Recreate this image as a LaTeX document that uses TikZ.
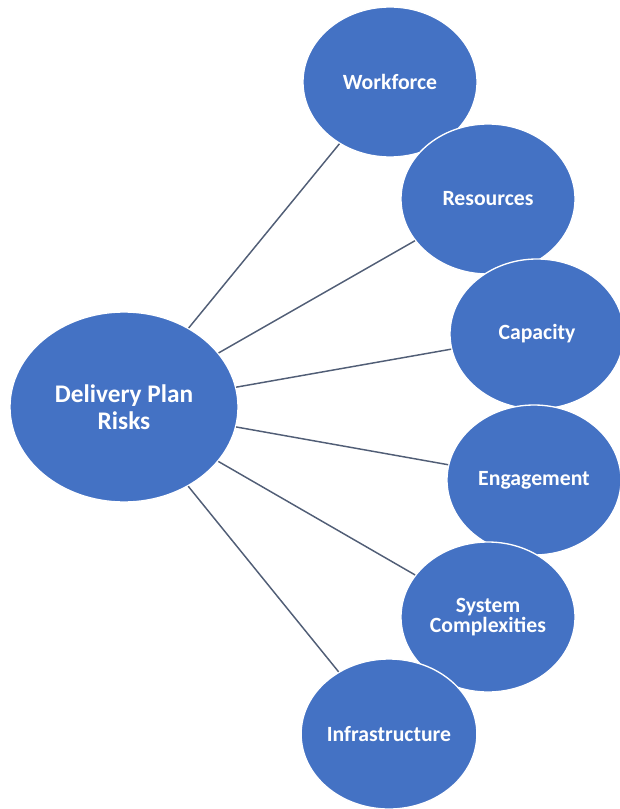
\documentclass[tikz,border=0pt]{standalone}
\usepackage{fontspec}
\setmainfont{Carlito}
\usetikzlibrary{shapes.geometric}
\definecolor{riskblue}{HTML}{4472C4}
\definecolor{linkgrey}{HTML}{515E76}
\tikzset{
  hub/.style={ellipse, draw=white, line width=1pt, fill=riskblue, text=white, align=center, inner sep=0pt, font=\bfseries\fontsize{19}{20}\selectfont, minimum width=171pt, minimum height=142.5pt},
  risk/.style={hub, font=\bfseries\fontsize{16.3}{15}\selectfont, minimum width=130.5pt, minimum height=112.5pt},
  link/.style={draw=linkgrey, line width=1.1pt}
}

\begin{document}
\begin{tikzpicture}[x=0.75pt, y=-0.75pt]
  \useasboundingbox (0,0) rectangle (620,809);
  \node[hub] (risks) at (124,407) {Delivery Plan\\Risks};

  \node[risk] (work)  at (390,82)  {Workforce};
  \node[risk] (res)   at (488,199) {Resources};
  \node[risk] (cap)   at (537,334) {Capacity};
  \node[risk] (eng)   at (534,480) {Engagement};
  \node[risk] (sys)   at (488,617) {System\\Complexities};
  \node[risk] (infra) at (389,734) {Infrastructure};

  \foreach \n in {work,res,cap,eng,sys,infra}
    \draw[link] (risks) -- (\n);
\end{tikzpicture}
\end{document}
